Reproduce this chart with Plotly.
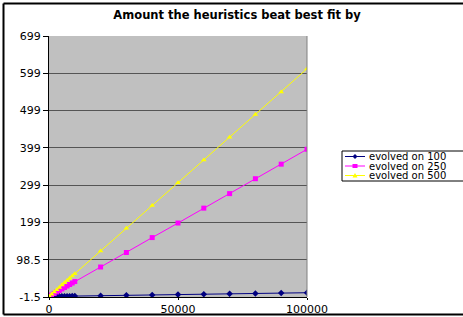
import plotly.graph_objects as go

x_vals = [100, 1000, 2000, 3000, 4000, 5000, 6000, 7000, 8000, 9000, 10000,
          20000, 30000, 40000, 50000, 60000, 70000, 80000, 90000, 100000]
evolved_100 = [0.0, 0.1, 0.2, 0.3, 0.4, 0.5, 0.6, 0.7, 0.8, 0.9, 1.0,
               2.0, 3.0, 4.0, 5.0, 6.0, 7.0, 8.0, 9.0, 10.0]
evolved_250 = [0.4, 4, 8, 12, 16, 20, 24, 28, 32, 36, 40,
               79, 118, 158, 197, 237, 276, 316, 355, 395]
evolved_500 = [0.6, 6, 12, 18, 24, 31, 37, 43, 49, 55, 61,
               122, 183, 244, 305, 366, 427, 488, 549, 611]
series_names = ["evolved on 100", "evolved on 250", "evolved on 500"]
series_colors = ["#000080", "#FF00FF", "#FFFF00"]
series_symbols = ["diamond", "square", "triangle-up"]
y_ticks = [-1.5, 98.57, 198.64, 298.71, 398.79, 498.86, 598.93, 699]
y_tick_labels = ["-1.5", "98.5", "199", "299", "399", "499", "599", "699"]
x_ticks = [0, 50000, 100000]
x_tick_labels = ["0", "50000", "100000"]

W, H = 463, 317
L, R, T, B = 49, 156, 36, 20
PW, PH = W - L - R, H - T - B


def px(X):
    return (X - L) / PW


def py(Y):
    return (H - B - Y) / PH


fig = go.Figure()
for name, ys, col, sym in zip(series_names, [evolved_100, evolved_250, evolved_500],
                              series_colors, series_symbols):
    fig.add_trace(go.Scatter(x=x_vals, y=ys, name=name, mode="lines+markers",
                             line=dict(color=col, width=1),
                             marker=dict(symbol=sym, size=5, color=col, line=dict(width=0)),
                             showlegend=False, hoverinfo="skip"))

font_family = "DejaVu Sans"
fig.update_layout(
    width=W, height=H,
    margin=dict(l=L, r=R, t=T, b=B, autoexpand=False),
    paper_bgcolor="white", plot_bgcolor="#C0C0C0",
    font=dict(family=font_family, size=11, color="black"),
    title=dict(text="<b>Amount the heuristics beat best fit by</b>", x=237 / W, xanchor="center",
               y=1 - 15 / H, yanchor="middle", font=dict(size=11.5, color="black")),
    showlegend=False,
    xaxis=dict(range=[0, 100000], tickvals=x_ticks, ticktext=x_tick_labels, automargin=False,
               showgrid=False, zeroline=False, showline=True, linecolor="black", linewidth=1,
               ticks="outside", ticklen=2, tickcolor="black"),
    yaxis=dict(range=[-1.5, 699], tickvals=y_ticks, ticktext=y_tick_labels, automargin=False,
               showgrid=True, gridcolor="#555555", gridwidth=1, zeroline=False,
               showline=True, linecolor="black", linewidth=1,
               ticks="outside", ticklen=5, tickcolor="black"),
)
# right edge of plot area
fig.add_shape(type="line", xref="paper", yref="paper", x0=1, x1=1, y0=0, y1=1,
              line=dict(color="#808080", width=1))
# outer chart border (left, top, bottom)
for (xa, ya, xb, yb) in [(3.5, 3.5, 3.5, 314.5), (3.5, 3.5, 463, 3.5), (3.5, 314.5, 463, 314.5)]:
    fig.add_shape(type="line", xref="paper", yref="paper", layer="above",
                  x0=px(xa), y0=py(ya), x1=px(xb), y1=py(yb),
                  line=dict(color="black", width=2))

# manual compact legend
fig.add_shape(type="rect", xref="paper", yref="paper", x0=px(342), x1=px(470), y0=py(181), y1=py(151),
              line=dict(color="black", width=1), fillcolor="white")
row_y = [156.5, 166, 175.5]
for name, col, sym, ry in zip(series_names, series_colors, series_symbols, row_y):
    fig.add_shape(type="line", xref="paper", yref="paper", x0=px(345), x1=px(365), y0=py(ry), y1=py(ry),
                  line=dict(color=col, width=1))
    cx, cy = 355, ry
    if sym == "diamond":
        path = f"M {px(cx-2.5)} {py(cy)} L {px(cx)} {py(cy-2.5)} L {px(cx+2.5)} {py(cy)} L {px(cx)} {py(cy+2.5)} Z"
    elif sym == "square":
        path = f"M {px(cx-2.5)} {py(cy-2)} L {px(cx+2.5)} {py(cy-2)} L {px(cx+2.5)} {py(cy+2)} L {px(cx-2.5)} {py(cy+2)} Z"
    else:
        path = f"M {px(cx-2.5)} {py(cy+2)} L {px(cx)} {py(cy-2.5)} L {px(cx+2.5)} {py(cy+2)} Z"
    fig.add_shape(type="path", xref="paper", yref="paper", path=path,
                  line=dict(color=col, width=0), fillcolor=col)
    fig.add_annotation(xref="paper", yref="paper", x=px(367), y=py(ry), text=name,
                       showarrow=False, xanchor="left", yanchor="middle",
                       font=dict(family=font_family, size=10, color="black"))

fig.write_html("out.html", config={"displayModeBar": False},
               post_script="document.body.style.margin='0';document.body.style.overflow='hidden';")
